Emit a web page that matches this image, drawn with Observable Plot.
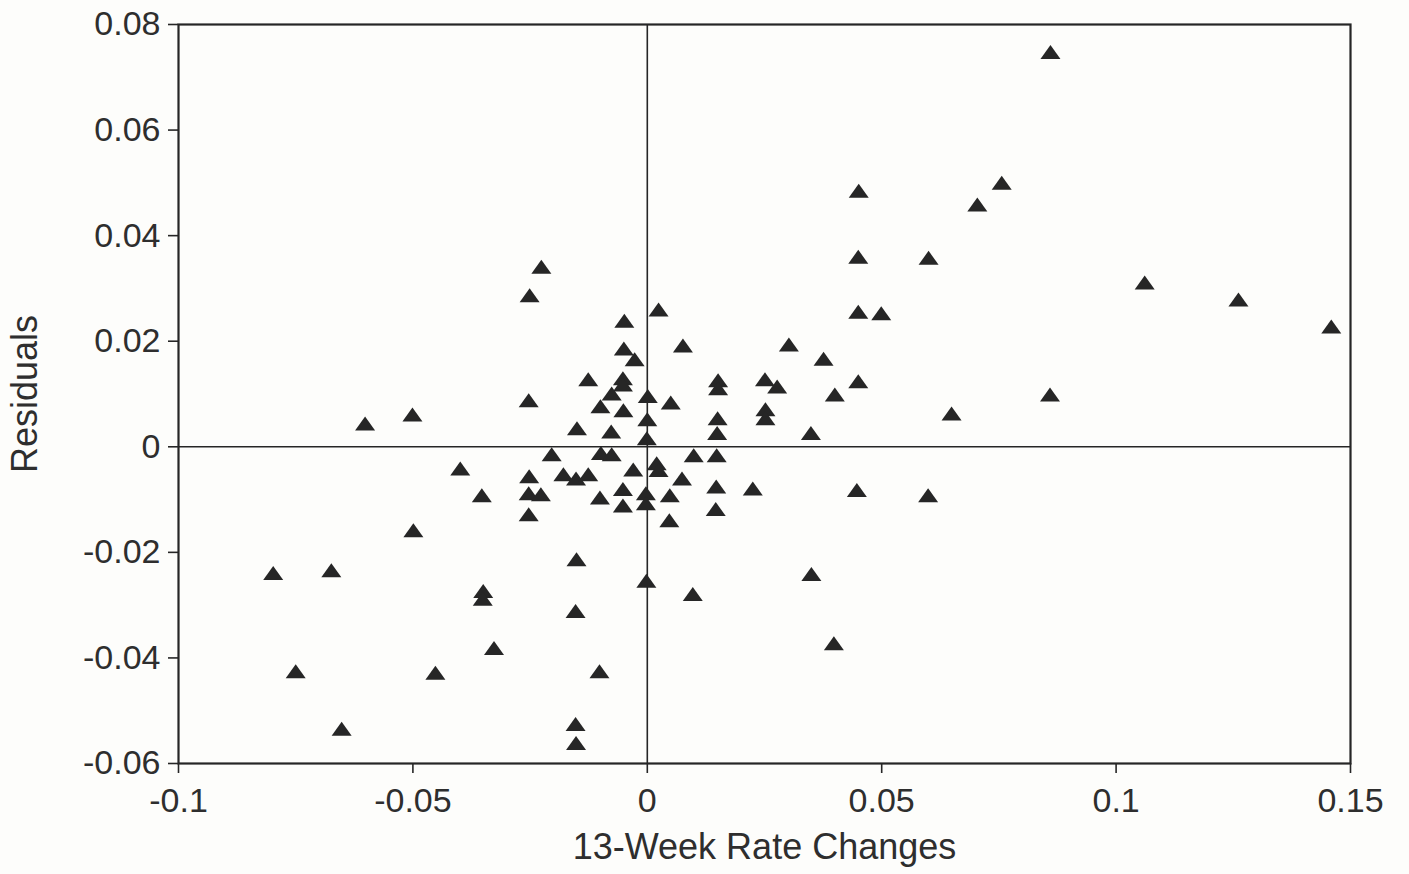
<!DOCTYPE html>
<html><head><meta charset="utf-8">
<script src="https://cdn.jsdelivr.net/npm/d3@7"></script>
<script src="https://cdn.jsdelivr.net/npm/@observablehq/plot@0.6"></script>
<style>
html,body{margin:0;padding:0;background:#fdfdfb;}
#chart{width:1409px;height:874px;}
</style></head><body><div id="chart"></div>
<script>
const rateChange = [0.0860,0.0451,0.0756,0.0704,0.0450,0.0600,0.1061,0.1261,0.1459,0.0450,0.0499,0.0302,0.0376,0.0450,0.0400,0.0859,0.0649,0.0349,0.0447,0.0599,0.0350,0.0398,0.0225,0.0097,-0.0226,-0.0251,0.0024,-0.0049,0.0076,-0.0050,-0.0027,-0.0126,-0.0052,-0.0052,-0.0076,-0.0253,0.0001,0.0050,-0.0100,-0.0051,0.0151,0.0151,0.0251,0.0277,0.0252,0.0252,0.0150,0.0149,-0.0150,-0.0077,0.0000,-0.0001,-0.0204,-0.0099,-0.0076,0.0099,0.0148,0.0020,0.0024,-0.0030,-0.0252,-0.0179,-0.0152,-0.0126,0.0074,-0.0253,-0.0227,-0.0101,-0.0052,-0.0052,-0.0003,-0.0003,0.0048,0.0147,0.0146,-0.0253,0.0047,-0.0602,-0.0501,-0.0399,-0.0353,-0.0499,-0.0798,-0.0674,-0.0350,-0.0351,-0.0151,-0.0002,-0.0153,-0.0327,-0.0750,-0.0452,-0.0102,-0.0652,-0.0153,-0.0152];
const residual = [0.0748,0.0485,0.0500,0.0459,0.0360,0.0358,0.0311,0.0279,0.0228,0.0256,0.0253,0.0194,0.0167,0.0124,0.0099,0.0099,0.0063,0.0026,-0.0082,-0.0092,-0.0241,-0.0372,-0.0079,-0.0279,0.0341,0.0287,0.0260,0.0239,0.0192,0.0186,0.0166,0.0128,0.0130,0.0118,0.0101,0.0088,0.0096,0.0084,0.0077,0.0069,0.0126,0.0111,0.0128,0.0114,0.0071,0.0054,0.0054,0.0026,0.0035,0.0029,0.0052,0.0016,-0.0014,-0.0012,-0.0014,-0.0016,-0.0016,-0.0031,-0.0044,-0.0043,-0.0056,-0.0052,-0.0060,-0.0052,-0.0060,-0.0088,-0.0090,-0.0096,-0.0080,-0.0111,-0.0088,-0.0107,-0.0092,-0.0075,-0.0118,-0.0128,-0.0139,0.0044,0.0061,-0.0041,-0.0092,-0.0158,-0.0239,-0.0234,-0.0273,-0.0288,-0.0213,-0.0254,-0.0311,-0.0381,-0.0425,-0.0428,-0.0425,-0.0534,-0.0525,-0.0561];
const xTicks = [-0.1,-0.05,0,0.05,0.1,0.15];
const xTickLabels = ["-0.1","-0.05","0","0.05","0.1","0.15"];
const yTicks = [-0.06,-0.04,-0.02,0,0.02,0.04,0.06,0.08];
const yTickLabels = ["-0.06","-0.04","-0.02","0","0.02","0.04","0.06","0.08"];
const xLabel = "13-Week Rate Changes";
const yLabel = "Residuals";

const data = rateChange.map((x, i) => ({x, y: residual[i]}));
const flatTriangle = {
  draw(ctx, size) {
    const r = Math.sqrt(size / Math.PI);
    const h = r * 0.7;
    ctx.moveTo(0, -h);
    ctx.lineTo(r, h);
    ctx.lineTo(-r, h);
    ctx.closePath();
  }
};
const ink = "#262626";
const textInk = "#2e2e2e";

const chart = Plot.plot({
  width: 1409, height: 874,
  marginLeft: 178, marginRight: 59, marginTop: 24, marginBottom: 111,
  style: {background: "transparent", fontFamily: "'Liberation Sans', Arial, Helvetica, sans-serif", fontSize: "34px", color: ink},
  x: {domain: [-0.1, 0.15]},
  y: {domain: [-0.06, 0.08]},
  marks: [
    Plot.ruleX([0], {stroke: ink, strokeWidth: 1.6}),
    Plot.ruleY([0], {stroke: ink, strokeWidth: 1.6}),
    Plot.frame({stroke: ink, strokeWidth: 2.2}),
    Plot.axisX({ticks: xTicks, tickFormat: d => xTickLabels[xTicks.indexOf(d)], tickSize: 10, tickPadding: 14, label: null, fontSize: 34, fill: textInk, strokeWidth: 1.6}),
    Plot.axisY({ticks: yTicks, tickFormat: d => yTickLabels[yTicks.indexOf(d)], tickSize: 10, tickPadding: 8, label: null, fontSize: 34, fill: textInk, strokeWidth: 1.6}),
    Plot.dot(data, {x: "x", y: "y", symbol: flatTriangle, r: 10, fill: ink, stroke: "none"}),
    Plot.text([xLabel], {frameAnchor: "bottom", dy: 95, fontSize: 36, fill: textInk, textAnchor: "middle"}),
    Plot.text([yLabel], {frameAnchor: "left", dx: -153, rotate: -90, fontSize: 36, fill: textInk, textAnchor: "middle"})
  ]
});
document.getElementById("chart").appendChild(chart);
</script>
</body></html>
